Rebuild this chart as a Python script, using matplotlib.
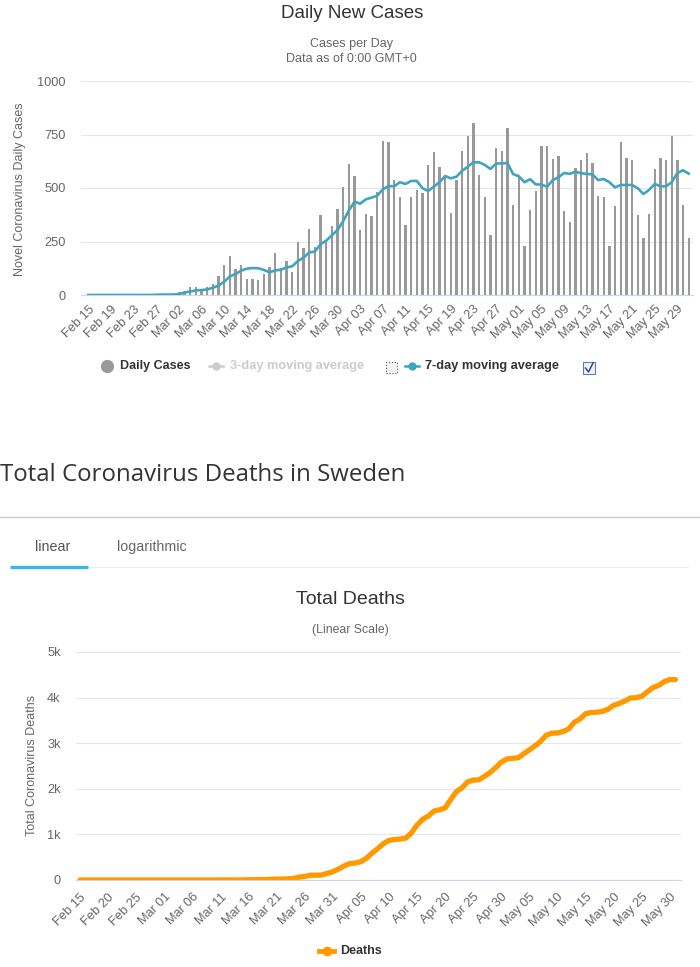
import numpy as np
import pandas as pd
import matplotlib
matplotlib.use('Agg')
import matplotlib.pyplot as plt
from matplotlib.lines import Line2D
from matplotlib.patches import Rectangle

W, H = 700, 967
NARROW = ['Liberation Sans', 'DejaVu Sans']

dates = pd.date_range('2020-02-15', '2020-05-31')
day_labels = [d.strftime('%b %d') for d in dates]

daily_cases = [0] * 11 + [
    1, 6, 5, 2, 1, 14,
    15, 37, 37, 23, 37, 50, 87, 140, 182, 121, 140, 75, 75, 70, 97, 129, 195, 125,
    159, 108, 248, 220, 307, 223, 372, 252, 322, 402, 505, 612, 556, 304, 379, 369,
    480, 720, 715, 537, 458, 327, 458, 491, 477, 608, 668, 598, 556, 385, 537, 673,
    743, 804, 561, 458, 280, 687, 673, 781, 421, 553, 229, 397, 486, 696, 696, 636,
    650, 393, 341, 594, 631, 664, 617, 463, 458, 229, 416, 715, 640, 631, 374, 266,
    379, 589, 640, 631, 743, 631, 421, 266]

avg_7day = [0] * 11 + [
    0.1, 1, 1.7, 2, 2.1, 4,
    12, 16, 22, 23, 26, 34, 44, 62, 87, 98, 114, 123, 126, 125, 117, 106, 115, 118,
    129, 134, 159, 174, 199, 203, 237, 254, 279, 304, 345, 395, 436, 427, 447, 455,
    464, 494, 509, 508, 527, 519, 533, 533, 499, 486, 506, 527, 556, 545, 553, 580,
    600, 620, 620, 608, 589, 614, 615, 617, 565, 555, 527, 541, 517, 516, 506, 537,
    550, 570, 566, 576, 569, 566, 564, 537, 542, 527, 503, 514, 514, 514, 499, 472,
    491, 519, 508, 508, 527, 570, 583, 567]

total_deaths = [0] * 25 + [
    1, 1, 1, 2, 3, 6, 7, 10, 11, 16, 20, 21, 25, 36, 62, 77, 105, 105, 110, 146, 180,
    239, 308, 358, 373, 401, 477, 591, 687, 793, 870, 887, 899, 919, 1033, 1203,
    1333, 1400, 1511, 1540, 1580, 1765, 1937, 2021, 2152, 2192, 2194, 2274, 2355,
    2462, 2586,
    2653, 2669, 2679, 2769, 2854, 2941, 3040, 3175, 3220, 3225, 3256, 3313, 3460,
    3529, 3646, 3674, 3679, 3698, 3743, 3831, 3871, 3925, 3992, 3998, 4029, 4125,
    4220, 4266, 4350, 4395, 4395]

case_ticks = [0, 250, 500, 750, 1000]
death_ticks = [0, 1000, 2000, 3000, 4000, 5000]
death_tick_labels = ['0', '1k', '2k', '3k', '4k', '5k']


def box(x0, y0, x1, y1):
    # pixel box (top-left origin) -> figure fraction rect
    return [x0 / W, 1 - y1 / H, (x1 - x0) / W, (y1 - y0) / H]


def fx(x):
    return x / W


def fy(y):
    return 1 - y / H


def style_axes(ax):
    for s in ['top', 'right', 'left']:
        ax.spines[s].set_visible(False)
    ax.spines['bottom'].set_color('#ccd6eb')
    ax.grid(axis='y', color='#e6e6e6', linewidth=0.8)
    ax.set_axisbelow(True)
    ax.tick_params(axis='y', length=0, colors='#666666', labelsize=9.2)
    ax.tick_params(axis='x', length=0, colors='#666666', labelsize=9.2)
    for lab in ax.get_yticklabels() + ax.get_xticklabels():
        lab.set_family(NARROW)


fig = plt.figure(figsize=(W / 100, H / 100), dpi=100)
x = np.arange(len(dates))

# ---- daily new cases ----
ax1 = fig.add_axes(box(81, 81, 693, 295))
ax1.bar(x, daily_cases, width=0.42, color='#999999', zorder=2)
ax1.plot(x, avg_7day, color='#40a4c0', linewidth=1.9, zorder=3)
ax1.set_xlim(-1.29, 106.76)
ax1.set_ylim(0, 1000)
ax1.set_yticks(case_ticks)
ax1.set_yticklabels([str(t) for t in case_ticks])
ax1.set_xticks(x[::4])
ax1.set_xticklabels(day_labels[::4], rotation=45, ha='right', va='top',
                    rotation_mode='anchor')
style_axes(ax1)
ax1.tick_params(axis='y', pad=11)
ax1.tick_params(axis='x', pad=6)

fig.text(fx(352), fy(14), 'Daily New Cases', ha='center', va='center',
         fontsize=13.5, color='#333333', family=NARROW)
fig.text(fx(351), fy(44), 'Cases per Day', ha='center', va='center',
         fontsize=9, color='#666666', family=NARROW)
fig.text(fx(351), fy(59), 'Data as of 0:00 GMT+0', ha='center', va='center',
         fontsize=9, color='#666666', family=NARROW)
fig.text(fx(20), fy(189), 'Novel Coronavirus Daily Cases', rotation=90,
         ha='center', va='center', fontsize=9, color='#666666', family=NARROW)

# legend of top chart
fig.add_artist(Line2D([fx(107)], [fy(366)], marker='o', markersize=8.5,
                      color='#999999', linestyle='none'))
fig.text(fx(120), fy(366), 'Daily Cases', ha='left', va='center', fontsize=9,
         fontweight='bold', color='#333333', family=NARROW)
fig.add_artist(Line2D([fx(209), fx(223)], [fy(366), fy(366)], color='#cccccc',
                      linewidth=1.8))
fig.add_artist(Line2D([fx(216)], [fy(366)], marker='o', markersize=5,
                      color='#cccccc'))
fig.text(fx(230), fy(366), '3-day moving average', ha='left', va='center',
         fontsize=9.2, fontweight='bold', color='#cccccc', family=NARROW)
fig.add_artist(Rectangle((fx(386), fy(373)), 11 / W, 11 / H, facecolor='#f4f4f4',
                         edgecolor='#555555', linewidth=0.8, linestyle=':'))
fig.add_artist(Line2D([fx(405), fx(419)], [fy(366), fy(366)], color='#40a4c0',
                      linewidth=1.8))
fig.add_artist(Line2D([fx(412)], [fy(366)], marker='o', markersize=5,
                      color='#40a4c0'))
fig.text(fx(425), fy(366), '7-day moving average', ha='left', va='center',
         fontsize=9.2, fontweight='bold', color='#333333', family=NARROW)
fig.add_artist(Rectangle((fx(583), fy(374)), 12 / W, 12 / H, facecolor='#eef2fa',
                         edgecolor='#6b7a99', linewidth=0.8))
fig.add_artist(Line2D([fx(585.5), fx(588.5), fx(593)], [fy(368), fy(372), fy(363)],
                      color='#2a3f7a', linewidth=1.0))

# ---- section header ----
fig.text(fx(0), fy(475), 'Total Coronavirus Deaths in Sweden', ha='left',
         va='center', fontsize=17.3, color='#333333', family=['Open Sans', 'DejaVu Sans'])
fig.add_artist(Line2D([0, 1], [fy(517), fy(517)], color='#cccccc', linewidth=1))
fig.text(fx(35), fy(547), 'linear', ha='left', va='center', fontsize=10.3,
         color='#555555', family=NARROW)
fig.text(fx(117), fy(547), 'logarithmic', ha='left', va='center', fontsize=10.3,
         color='#666666', family=NARROW)
fig.add_artist(Line2D([fx(88), fx(688)], [fy(567), fy(567)], color='#eeeeee',
                      linewidth=0.8))
fig.add_artist(Line2D([fx(10), fx(88)], [fy(567), fy(567)], color='#3bb9e6',
                      linewidth=2.4, solid_capstyle='butt'))

# ---- total deaths ----
ax2 = fig.add_axes(box(76, 652, 681, 880))
ax2.plot(x, total_deaths, color='#ff9900', linewidth=3.8, solid_capstyle='round',
         solid_joinstyle='round')
ax2.set_xlim(-0.71, 107.0)
ax2.set_ylim(0, 5000)
ax2.set_yticks(death_ticks)
ax2.set_yticklabels(death_tick_labels)
ax2.set_xticks(x[::5])
ax2.set_xticklabels(day_labels[::5], rotation=45, ha='right', va='top',
                    rotation_mode='anchor')
style_axes(ax2)
ax2.tick_params(axis='y', pad=11)
ax2.tick_params(axis='x', pad=8)

fig.text(fx(350), fy(600), 'Total Deaths', ha='center', va='center',
         fontsize=14, color='#333333', family=NARROW)
fig.text(fx(350), fy(630), '(Linear Scale)', ha='center', va='center',
         fontsize=8.8, color='#666666', family=NARROW)
fig.text(fx(32), fy(765), 'Total Coronavirus Deaths', rotation=90,
         ha='center', va='center', fontsize=9, color='#666666', family=NARROW)

fig.add_artist(Line2D([fx(319), fx(334)], [fy(951), fy(951)], color='#ff9900',
                      linewidth=3.5))
fig.add_artist(Line2D([fx(326.5)], [fy(951)], marker='o', markersize=6,
                      color='#ff9900'))
fig.text(fx(340), fy(951), 'Deaths', ha='left', va='center', fontsize=9,
         fontweight='bold', color='#333333', family=NARROW)

fig.savefig('out.png', dpi=100)
